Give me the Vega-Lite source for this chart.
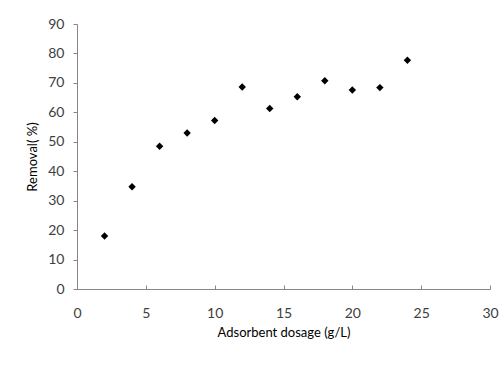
{
  "$schema": "https://vega.github.io/schema/vega-lite/v6.json",
  "width": 413,
  "height": 265,
  "autosize": "none",
  "padding": {"left": 77, "top": 24, "right": 14, "bottom": 77},
  "background": "white",
  "config": {
    "view": {"stroke": null},
    "font": "Lato",
    "axis": {
      "grid": false,
      "domainColor": "#868686",
      "tickColor": "#868686",
      "labelColor": "#404040",
      "titleColor": "#000000",
      "labelFont": "Lato",
      "titleFont": "Lato",
      "labelFontSize": 14,
      "titleFontSize": 13,
      "titleFontWeight": "normal"
    }
  },
  "data": {
    "values": [
      {"dosage": 2, "removal": 18.0},
      {"dosage": 4, "removal": 34.7},
      {"dosage": 6, "removal": 48.5},
      {"dosage": 8, "removal": 53.0},
      {"dosage": 10, "removal": 57.2},
      {"dosage": 12, "removal": 68.6},
      {"dosage": 14, "removal": 61.3},
      {"dosage": 16, "removal": 65.3},
      {"dosage": 18, "removal": 70.7},
      {"dosage": 20, "removal": 67.6},
      {"dosage": 22, "removal": 68.4},
      {"dosage": 24, "removal": 77.7}
    ]
  },
  "mark": {"type": "point", "shape": "diamond", "filled": true, "color": "#000000", "opacity": 1, "size": 55},
  "encoding": {
    "x": {
      "field": "dosage",
      "type": "quantitative",
      "title": "Adsorbent dosage (g/L)",
      "scale": {"domain": [0, 30], "nice": false, "zero": true},
      "axis": {"values": [0, 5, 10, 15, 20, 25, 30], "tickSize": -4, "labelPadding": 21, "titlePadding": 6, "labelFlush": false}
    },
    "y": {
      "field": "removal",
      "type": "quantitative",
      "title": "Removal( %)",
      "scale": {"domain": [0, 90], "nice": false},
      "axis": {"values": [0, 10, 20, 30, 40, 50, 60, 70, 80, 90], "tickSize": 4, "labelPadding": 9, "titlePadding": 8, "labelFlush": false}
    }
  }
}
